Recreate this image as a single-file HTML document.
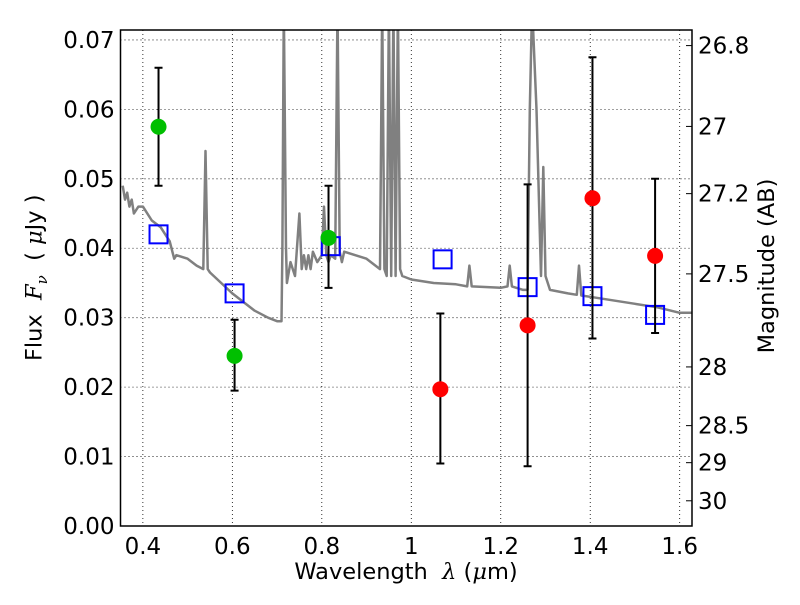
<!DOCTYPE html>
<html><head><meta charset="utf-8"><style>
body{margin:0;background:#fff;width:800px;height:600px;overflow:hidden}
svg{font-family:"DejaVu Sans","Liberation Sans",sans-serif}
</style></head><body>
<svg id="c" width="800" height="600"></svg>
<script>
const xTicks=[0.4,0.6,0.8,1.0,1.2,1.4,1.6];
const xTickLabels=["0.4","0.6","0.8","1","1.2","1.4","1.6"];
const yTicks=[0,0.01,0.02,0.03,0.04,0.05,0.06,0.07];
const yTickLabels=["0.00","0.01","0.02","0.03","0.04","0.05","0.06","0.07"];
const magTicks=[26.8,27,27.2,27.5,28,28.5,29,30];
const magTickLabels=["26.8","27","27.2","27.5","28","28.5","29","30"];
const greenX=[0.435,0.605,0.815];
const greenY=[0.0575,0.0245,0.0415];
const greenLo=[0.049,0.0195,0.0343];
const greenHi=[0.066,0.0297,0.049];
const redX=[1.065,1.26,1.405,1.545];
const redY=[0.0197,0.0289,0.0472,0.0389];
const redLo=[0.009,0.0086,0.027,0.0278];
const redHi=[0.0306,0.0492,0.0675,0.050];
const modelX=[0.435,0.605,0.82,1.07,1.26,1.405,1.545];
const modelY=[0.0420,0.0335,0.0403,0.0384,0.0344,0.0331,0.0304];
const specX=[0.355,0.36,0.365,0.37,0.375,0.38,0.39,0.4,0.42,0.44,0.46,0.47,0.475,0.5,0.52,0.535,0.54,0.545,0.55,0.6,0.65,0.68,0.7,0.71,0.712,0.715,0.72,0.722,0.73,0.74,0.75,0.755,0.76,0.765,0.77,0.775,0.78,0.79,0.8,0.805,0.81,0.815,0.82,0.83,0.835,0.84,0.845,0.85,0.9,0.93,0.935,0.94,0.945,0.95,0.955,0.96,0.965,0.97,0.975,0.98,1.0,1.05,1.1,1.125,1.13,1.135,1.2,1.215,1.22,1.225,1.25,1.26,1.265,1.27,1.28,1.29,1.295,1.3,1.31,1.35,1.37,1.375,1.38,1.4,1.45,1.5,1.55,1.6,1.63];
const specY=[0.049,0.047,0.048,0.046,0.047,0.045,0.046,0.046,0.044,0.043,0.041,0.0385,0.039,0.0385,0.0375,0.037,0.054,0.037,0.0365,0.0335,0.031,0.030,0.0295,0.0295,0.04,0.075,0.04,0.035,0.038,0.036,0.045,0.037,0.039,0.037,0.039,0.037,0.0395,0.038,0.039,0.046,0.039,0.038,0.039,0.0385,0.075,0.0395,0.038,0.0395,0.0385,0.037,0.075,0.037,0.036,0.075,0.036,0.075,0.036,0.075,0.037,0.036,0.0355,0.035,0.0348,0.0345,0.0375,0.0345,0.0343,0.0345,0.0375,0.0345,0.034,0.034,0.06,0.075,0.06,0.036,0.0517,0.036,0.034,0.0335,0.0333,0.0375,0.0332,0.033,0.0325,0.032,0.0315,0.0307,0.0307];
const L=120.5,R=692,T=30,B=526,X0=0.35,X1=1.6275;
const sx=v=>L+(v-X0)/(X1-X0)*(R-L);
const sy=v=>B-v*6944;
const svg=document.getElementById('c');
const NS='http://www.w3.org/2000/svg';
function mk(t,a,p){const e=document.createElementNS(NS,t);for(const k in a)e.setAttribute(k,a[k]);(p||svg).appendChild(e);return e;}
const cp=mk('clipPath',{id:'cp'});
mk('rect',{x:L,y:T,width:R-L,height:B-T},cp);
xTicks.forEach((v,i)=>{
  const g=mk('line',{x1:sx(v),x2:sx(v),y1:T,y2:B,stroke:'#000','stroke-width':0.8,'stroke-dasharray':'1,3'});
  
  const t=mk('text',{x:sx(v),y:B+28,'text-anchor':'middle','font-size':23});t.textContent=xTickLabels[i];
  
});
yTicks.forEach((v,i)=>{
  const g=mk('line',{x1:L,x2:R,y1:sy(v),y2:sy(v),stroke:'#000','stroke-width':0.8,'stroke-dasharray':'1,3'});
  
  const t=mk('text',{x:L-6,y:sy(v)+8,'text-anchor':'end','font-size':23});t.textContent=yTickLabels[i];
  
});
magTicks.forEach((m,i)=>{
  const f=Math.pow(10,(23.9-m)/2.5);
  const tk=mk('line',{x1:R,x2:R-6,y1:sy(f),y2:sy(f),stroke:'#000','stroke-width':1});
  
  const t=mk('text',{x:R+6,y:sy(f)+8,'font-size':23});t.textContent=magTickLabels[i];
  
});
const pts=specX.map((x,i)=>sx(x).toFixed(1)+','+sy(specY[i]).toFixed(1)).join(' ');
const sp=mk('polyline',{points:pts,fill:'none',stroke:'#808080','stroke-width':2.5,'clip-path':'url(#cp)','stroke-linejoin':'round'});

modelX.forEach((x,i)=>{
  const r=mk('rect',{x:sx(x)-9,y:sy(modelY[i])-9,width:18,height:18,fill:'none',stroke:'#0000ff','stroke-width':2});
  
});
function pt(xs,ys,lo,hi,col,name){
  xs.forEach((x,i)=>{
    const X=sx(x);
    const e=mk('path',{d:`M${X},${sy(lo[i])}V${sy(hi[i])}M${X-4},${sy(lo[i])}h8M${X-4},${sy(hi[i])}h8`,stroke:'#000','stroke-width':2,fill:'none'});
    
    const c=mk('circle',{cx:X,cy:sy(ys[i]),r:8,fill:col});
    
  });
}
pt(greenX,greenY,greenLo,greenHi,'#00bf00','observed-point-green');
pt(redX,redY,redLo,redHi,'#ff0000','observed-point-red');
const fr=mk('rect',{x:L,y:T,width:R-L,height:B-T,fill:'none',stroke:'#000','stroke-width':1.5});

</script>
<div style="position:absolute;left:0;width:812px;top:559px;text-align:center;font:22.5px 'DejaVu Sans',sans-serif">Wavelength &nbsp;<i style="font-family:'DejaVu Serif',serif">λ</i> (<i style="font-family:'DejaVu Serif',serif">μ</i>m)</div>
<div style="position:absolute;left:-84px;top:263px;width:240px;text-align:center;transform:rotate(-90deg);font:22.5px 'DejaVu Sans',sans-serif">Flux &nbsp;<i style="font-family:'DejaVu Serif',serif">F<sub style="font-size:15px">ν</sub></i> &nbsp;( <i style="font-family:'DejaVu Serif',serif">μ</i>Jy )</div>
<div style="position:absolute;left:667px;top:253px;width:200px;text-align:center;transform:rotate(-90deg);font:22.5px 'DejaVu Sans',sans-serif">Magnitude (AB)</div>
</body></html>
